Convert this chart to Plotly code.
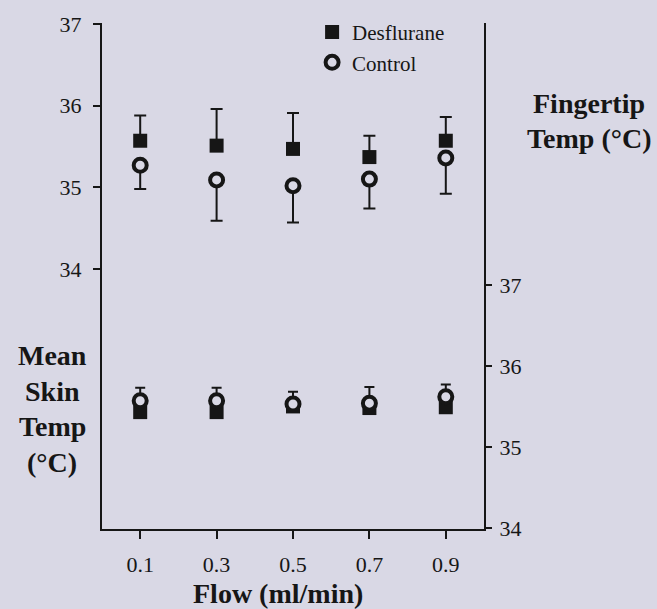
import plotly.graph_objects as go

# ---- data ----
flow = [0.1, 0.3, 0.5, 0.7, 0.9]
flow_labels = ["0.1", "0.3", "0.5", "0.7", "0.9"]

# Mean skin temperature (left axis, upper cluster)
skin_desflurane = [35.57, 35.51, 35.47, 35.37, 35.57]
skin_desflurane_err = [0.31, 0.45, 0.44, 0.26, 0.29]
skin_control = [35.27, 35.09, 35.02, 35.10, 35.36]
skin_control_err = [0.29, 0.50, 0.45, 0.36, 0.44]

# Fingertip temperature (right axis, lower cluster)
finger_desflurane = [35.43, 35.43, 35.50, 35.48, 35.49]
finger_control = [35.57, 35.57, 35.53, 35.54, 35.62]
finger_control_err = [0.16, 0.16, 0.15, 0.20, 0.15]

temp_ticks = [34, 35, 36, 37]

left_title_lines = ["Mean", "Skin", "Temp", "(°C)"]
right_title_lines = ["Fingertip", "Temp (°C)"]
x_title = "Flow (ml/min)"

# ---- styles ----
BG = "#d9d8e5"
INK = "#161616"
SERIF = "Liberation Serif, Times New Roman, serif"
zeros = [0] * len(flow)

fig = go.Figure()

fig.add_trace(go.Scatter(
    x=flow, y=skin_desflurane, mode="markers", name="Desflurane",
    marker=dict(symbol="square", size=14, color=INK),
    error_y=dict(type="data", symmetric=False, array=skin_desflurane_err,
                 arrayminus=zeros, color=INK, thickness=2, width=6),
    yaxis="y", showlegend=True))
fig.add_trace(go.Scatter(
    x=flow, y=skin_control, mode="markers", name="Control",
    marker=dict(symbol="circle", size=13, color=BG, line=dict(color=INK, width=4)),
    error_y=dict(type="data", symmetric=False, array=zeros,
                 arrayminus=skin_control_err, color=INK, thickness=2, width=6),
    yaxis="y", showlegend=True))

fig.add_trace(go.Scatter(
    x=flow, y=finger_desflurane, mode="markers", name="Desflurane",
    marker=dict(symbol="square", size=14, color=INK),
    yaxis="y2", showlegend=False))
fig.add_trace(go.Scatter(
    x=flow, y=finger_control, mode="markers", name="Control",
    marker=dict(symbol="circle", size=13, color=BG, line=dict(color=INK, width=4)),
    error_y=dict(type="data", symmetric=False, array=finger_control_err,
                 arrayminus=zeros, color=INK, thickness=2, width=5),
    yaxis="y2", showlegend=False))

axis_common = dict(showgrid=False, zeroline=False, showline=True, linecolor=INK,
                   linewidth=2, ticks="outside", tickcolor=INK, tickwidth=2,
                   tickfont=dict(family=SERIF, size=22, color=INK))

fig.update_layout(
    width=657, height=609,
    margin=dict(l=102, r=173, t=19, b=80),
    paper_bgcolor=BG, plot_bgcolor=BG,
    xaxis=dict(range=[0, 1], tickvals=flow, ticktext=flow_labels, ticklen=8,
               ticklabelstandoff=7, **axis_common),
    yaxis=dict(range=[30.815, 37.012], tickvals=temp_ticks, ticklen=7,
               ticklabelstandoff=7, **axis_common),
    yaxis2=dict(range=[33.988, 40.23], tickvals=temp_ticks, ticklen=6,
                overlaying="y", side="right", anchor="x", ticklabelstandoff=3,
                **axis_common),
    legend=dict(x=0.55, y=1.022, xanchor="left", yanchor="top",
                bgcolor="rgba(0,0,0,0)", borderwidth=0,
                font=dict(family=SERIF, size=21, color=INK)),
    showlegend=True,
)

title_font = dict(family=SERIF, size=28, color=INK)

def px_to_paper(px, py):
    return (px - 102) / 382, (529 - py) / 510

for i, line in enumerate(left_title_lines):
    x, y = px_to_paper(52, 354 + 36 * i)
    fig.add_annotation(text="<b>%s</b>" % line, xref="paper", yref="paper", x=x, y=y,
                       xanchor="center", yanchor="middle", showarrow=False, font=title_font)
for i, line in enumerate(right_title_lines):
    x, y = px_to_paper(589, 100 + 35 * i)
    fig.add_annotation(text="<b>%s</b>" % line, xref="paper", yref="paper", x=x, y=y,
                       xanchor="center", yanchor="middle", showarrow=False, font=title_font)
x, y = px_to_paper(278, 594)
fig.add_annotation(text="<b>%s</b>" % x_title, xref="paper", yref="paper", x=x, y=y,
                   xanchor="center", yanchor="middle", showarrow=False, font=title_font)

fig.write_html("out.html")
